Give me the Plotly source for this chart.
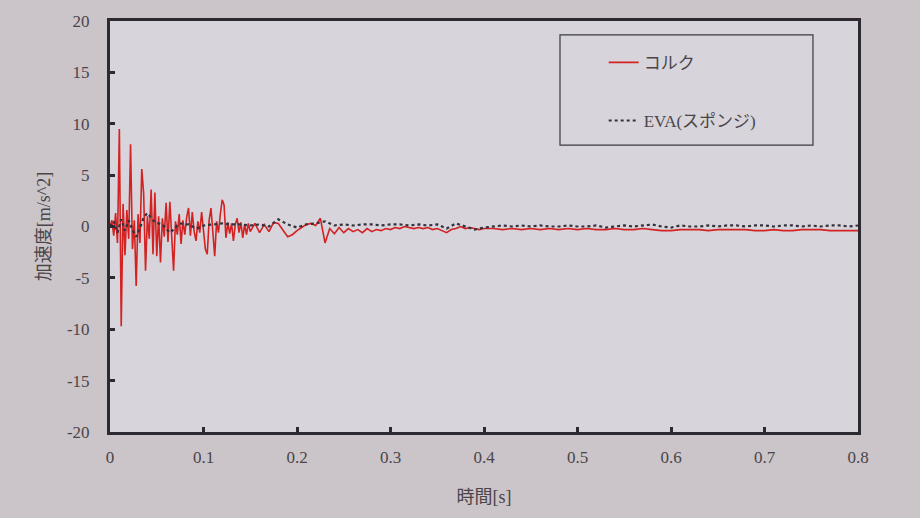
import numpy as np
import plotly.graph_objects as go

# ---- data ----
# コルク (cork): sample grid segments and readings
t_cork_a = np.round(np.arange(0.0, 0.1501, 0.002), 3)
cork_a = [0.0, 0.6, -0.9, 1.3, -1.6, 9.5, -9.7, 2.2, -2.8, 1.6,
          -1.2, 8.0, -2.2, 0.6, -5.8, 1.2, -1.6, 5.6, 3.2, -4.3,
          1.0, -1.2, 3.6, -2.7, 3.3, -2.9, 1.0, -3.5, 0.8, -1.0,
          2.3, -1.5, 2.4, -0.8, -4.3, 0.5, -0.8, 1.2, -1.7, 0.6,
          -0.8, 0.9, 1.8, -0.9, 1.4, -0.5, -1.4, 0.5, -0.6, 1.4,
          -0.8, -2.2, -2.7, 0.6, 1.8, -1.0, -2.9, 0.5, -0.6, 1.2,
          2.6, 2.1, -1.1, 0.4, -0.7, 0.3, -1.4, 0.2, 0.8, -0.6,
          0.4, -1.1, 0.2, -0.8, 0.3, -0.5]
t_cork_b = np.round(np.arange(0.155, 0.4001, 0.005), 3)
cork_b = [0.3, -0.6, 0.2, -0.5, 0.4, 0.3, -0.4, -1.0, -0.8, -0.4,
          -0.1, 0.2, 0.3, 0.1, 0.8, -1.6, -0.2, -0.7, -0.1, -0.6,
          -0.2, -0.5, -0.3, -0.6, -0.2, -0.5, -0.3, -0.4, -0.2, -0.3,
          -0.1, -0.2, 0.0, -0.1, -0.2, -0.1, -0.2, -0.1, -0.3, -0.2,
          -0.4, -0.6, -0.3, -0.2, 0.0, -0.2, -0.1, -0.2, -0.3, -0.2]
t_cork_c = np.round(np.arange(0.41, 0.8001, 0.01), 3)
cork_c = [-0.2, -0.3, -0.2, -0.3, -0.2, -0.3, -0.2, -0.3, -0.2, -0.3,
          -0.2, -0.3, -0.3, -0.2, -0.3, -0.3, -0.2, -0.3, -0.4, -0.4,
          -0.3, -0.3, -0.3, -0.4, -0.3, -0.3, -0.3, -0.3, -0.4, -0.4,
          -0.3, -0.4, -0.4, -0.3, -0.3, -0.3, -0.4, -0.4, -0.4, -0.4]

# EVA(スポンジ)
t_eva_a = np.round(np.arange(0.0, 0.1001, 0.004), 3)
eva_a = [0.0, 0.5, -0.6, 0.7, -0.4, 0.6, -0.3, -1.0, -0.2, 0.9,
         1.3, 0.8, 0.4, 0.3, 0.2, -0.2, -0.6, -0.3, 0.1, 0.3,
         0.2, 0.2, 0.0, -0.2, -0.1, 0.1]
t_eva_b = np.round(np.arange(0.11, 0.8001, 0.01), 3)
eva_b = [0.2, 0.3, 0.2, 0.2, 0.1, 0.2, 0.0, 0.7, 0.2, -0.1,
         0.2, 0.3, 0.5, 0.1, 0.2, 0.1, 0.2, 0.2, 0.1, 0.2,
         0.2, 0.1, 0.2, 0.1, 0.2, -0.2, 0.3, 0.0, -0.3, -0.1,
         0.0, 0.1, 0.0, 0.1, 0.0, 0.1, 0.0, 0.0, 0.1, 0.0,
         0.0, 0.1, -0.1, 0.0, 0.1, 0.0, 0.1, 0.2, 0.0, -0.1,
         0.1, 0.0, 0.0, 0.1, 0.0, 0.1, 0.1, 0.0, 0.1, 0.1,
         0.0, 0.1, 0.1, 0.0, 0.1, 0.0, 0.1, 0.1, 0.0, 0.1]

x_ticks = [0, 0.1, 0.2, 0.3, 0.4, 0.5, 0.6, 0.7, 0.8]
x_tick_labels = ["0", "0.1", "0.2", "0.3", "0.4", "0.5", "0.6", "0.7", "0.8"]
y_ticks = [-20, -15, -10, -5, 0, 5, 10, 15, 20]
y_tick_labels = ["-20", "-15", "-10", "-5", "0", "5", "10", "15", "20"]

name_cork = "コルク"
name_eva = "EVA(スポンジ)"

t_cork = list(t_cork_a) + list(t_cork_b) + list(t_cork_c)
v_cork = cork_a + cork_b + cork_c
t_eva = list(t_eva_a) + list(t_eva_b)
v_eva = eva_a + eva_b

FONT = "Liberation Serif, Noto Sans CJK JP, serif"
TXT = "#4a4548"
BG = "#cbc4c8"

fig = go.Figure()
fig.add_trace(go.Scatter(x=t_cork, y=v_cork, mode="lines", name=name_cork,
                         legendgroup="a",
                         line=dict(color="#d42222", width=1.6)))
fig.add_trace(go.Scatter(x=t_eva, y=v_eva, mode="lines", name=name_eva,
                         legendgroup="b",
                         line=dict(color="#34323c", width=2.2, dash="dot")))

# legend frame
fig.add_shape(type="rect", xref="paper", yref="paper",
              x0=0.6016, x1=0.9398, y0=0.698, y1=0.966,
              line=dict(color="#3a3a42", width=1.2), fillcolor="rgba(0,0,0,0)")

fig.update_layout(
    width=920, height=518,
    margin=dict(l=110, r=62, t=18, b=86),
    paper_bgcolor=BG,
    plot_bgcolor="#d7d4db",
    font=dict(family=FONT, size=17, color=TXT),
    showlegend=True,
    legend=dict(x=0.66, y=0.942, xanchor="left", yanchor="top",
                bgcolor="rgba(0,0,0,0)", borderwidth=0,
                tracegroupgap=33, font=dict(family=FONT, size=17, color=TXT)),
    xaxis=dict(range=[0, 0.8], tickvals=x_ticks, ticktext=x_tick_labels,
               showgrid=False, zeroline=False,
               showline=True, linecolor="#2c2a30", linewidth=3, mirror=True,
               ticks="inside", ticklen=5, tickwidth=3, tickcolor="#2c2a30",
               ticklabelstandoff=8,
               title=dict(text="時間[s]", font=dict(family=FONT, size=18, color=TXT), standoff=24)),
    yaxis=dict(range=[-20, 20], tickvals=y_ticks, ticktext=y_tick_labels,
               showgrid=False, zeroline=False,
               showline=True, linecolor="#2c2a30", linewidth=3, mirror=True,
               ticks="inside", ticklen=5, tickwidth=3, tickcolor="#2c2a30",
               ticklabelstandoff=14,
               title=dict(text="加速度[m/s^2]", font=dict(family=FONT, size=18, color=TXT), standoff=12)),
)

fig.write_html("out.html",
               config={"displayModeBar": False},
               post_script="document.body.style.margin='0';document.body.style.background='%s';" % BG)
